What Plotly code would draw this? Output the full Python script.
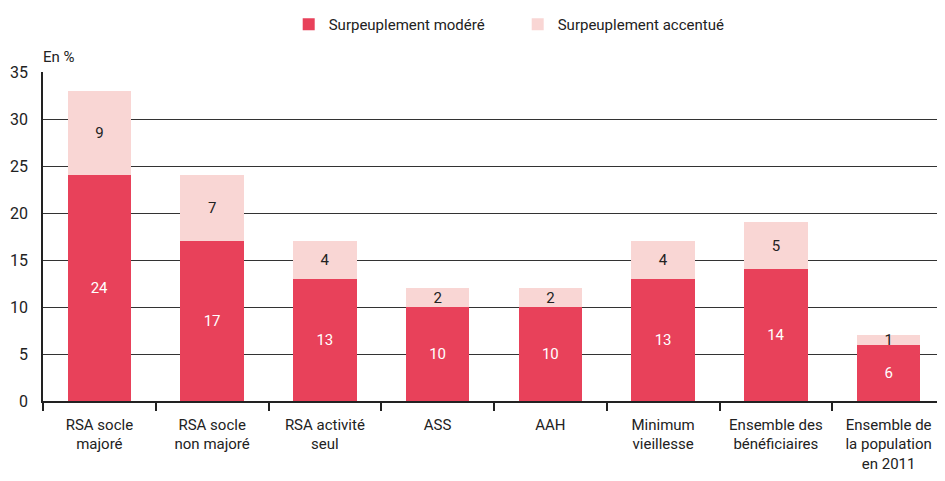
import plotly.graph_objects as go

categories = ["RSA socle<br>majoré", "RSA socle<br>non majoré", "RSA activité<br>seul", "ASS", "AAH",
              "Minimum<br>vieillesse", "Ensemble des<br>bénéficiaires", "Ensemble de<br>la population<br>en 2011"]
modere = [24, 17, 13, 10, 10, 13, 14, 6]
accentue = [9, 7, 4, 2, 2, 4, 5, 1]
y_ticks = [0, 5, 10, 15, 20, 25, 30, 35]

FONT = "Roboto, Liberation Sans Narrow, sans-serif"
RED = "#E8415A"
PINK = "#F9D6D4"

fig = go.Figure()
fig.add_trace(go.Bar(
    x=categories, y=modere, name="Surpeuplement modéré",
    marker=dict(color=RED, line=dict(width=0)),
    text=[str(v) for v in modere], textposition="inside", insidetextanchor="middle", textangle=0,
    textfont=dict(color="white", size=15, family=FONT), width=0.565, constraintext="none",
))
fig.add_trace(go.Bar(
    x=categories, y=accentue, name="Surpeuplement accentué",
    marker=dict(color=PINK, line=dict(width=0)),
    text=[str(v) for v in accentue], textposition="inside", insidetextanchor="middle", textangle=0,
    textfont=dict(color="#222222", size=15, family=FONT),
    constraintext="none", cliponaxis=False, width=0.565,
))

fig.update_layout(
    barmode="stack",
    width=937, height=473,
    margin=dict(l=35, r=0, t=64, b=80, autoexpand=False),
    paper_bgcolor="white", plot_bgcolor="white",
    font=dict(family=FONT, size=15, color="#222222"),
    legend=dict(orientation="h", x=0.2724, xanchor="left", y=1.0, yref="container", yanchor="top",
                font=dict(size=15, family=FONT), traceorder="normal",
                entrywidth=184, entrywidthmode="pixels"),
    showlegend=True,
)
fig.update_yaxes(range=[0, 35], tickvals=y_ticks, showgrid=True, gridcolor="#333333", gridwidth=1,
                 zeroline=False, showline=True, linecolor="#222222", linewidth=1.5, automargin=False,
                 ticks="", tickfont=dict(size=16, family=FONT), ticklabelstandoff=10)
fig.update_xaxes(showline=True, linecolor="#222222", linewidth=1.5, ticks="outside", tickson="boundaries",
                 ticklen=8, tickcolor="#222222", tickwidth=1.5, tickfont=dict(size=15, family=FONT),
                 range=[-0.5, 7.5], automargin=False, ticklabelstandoff=9)
fig.add_annotation(text="En %", x=0, xref="paper", y=1.0, yref="paper", yanchor="bottom", xanchor="left",
                   showarrow=False, font=dict(size=15, family=FONT), yshift=4, xshift=-2)

fig.write_html("out.html")
